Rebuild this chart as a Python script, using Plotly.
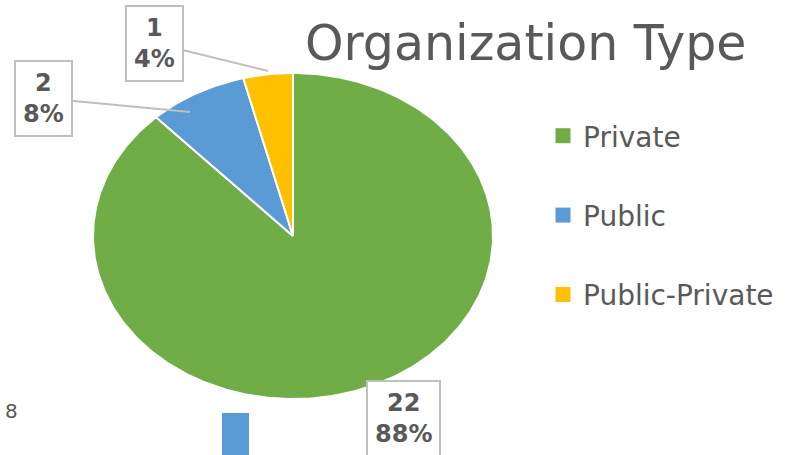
import numpy as np
import plotly.graph_objects as go

# ---- data ----
categories = ["Private", "Public", "Public-Private"]
counts = [22, 2, 1]
colors = ["#70AD47", "#5B9BD5", "#FFC000"]
title_text = "Organization Type"

total = sum(counts)
percents = [round(100 * c / total) for c in counts]

# pixel geometry of the (stretched) pie in the 788x455 canvas
W, H = 788, 455
CX, CY, RX, RY = 293, 236, 200, 163

def X(px):
    return (px - CX) / RX

def Y(py):
    return (CY - py) / RY

fig = go.Figure()

# pie slices (clockwise from 12 o'clock), unit circle stretched by the axes
start = 0.0
for cat, c, col in zip(categories, counts, colors):
    frac = c / total
    th = np.linspace(start, start + frac * 2 * np.pi, max(8, int(400 * frac)))
    xs = np.concatenate([[0], np.sin(th), [0]])
    ys = np.concatenate([[0], np.cos(th), [0]])
    fig.add_trace(go.Scatter(x=xs, y=ys, mode="lines", fill="toself",
                             fillcolor=col, line=dict(color="white", width=2),
                             showlegend=False, hoverinfo="skip", name=cat))
    start += frac * 2 * np.pi

# legend entries
for i, (cat, col) in enumerate(zip(categories, colors)):
    fig.add_trace(go.Scatter(x=[None], y=[None], mode="markers", name=cat,
                             legendgroup=f"g{i}",
                             marker=dict(symbol="square", size=15, color=col)))

# data labels (manually placed, like the original)
label_pos = {  # box centre (px), leader tip (px) or None
    "Private": ((403, 418), None),
    "Public": ((43, 98), (190, 112)),
    "Public-Private": ((154, 43), (268, 71)),
}
for cat, c, p in zip(categories, counts, percents):
    (bx, by), tip = label_pos[cat]
    txt = f"<b>{c}</b><br><b>{p}%</b>"
    common = dict(text=txt, font=dict(family="DejaVu Sans", size=24, color="#595959"),
                  bordercolor="#BFBFBF", borderwidth=2, borderpad=7, bgcolor="white",
                  xref="x", yref="y")
    if tip is None:
        fig.add_annotation(x=X(bx), y=Y(by), showarrow=False, **common)
    else:
        fig.add_annotation(x=X(tip[0]), y=Y(tip[1]), ax=X(bx), ay=Y(by),
                           axref="x", ayref="y", showarrow=True, arrowhead=0,
                           arrowwidth=2, arrowcolor="#BFBFBF", **common)

# title
fig.add_annotation(text=title_text, x=303 / W, y=1 - 44 / H, xref="paper", yref="paper",
                   xanchor="left", yanchor="middle", showarrow=False,
                   font=dict(family="DejaVu Sans", size=49, color="#595959"))

# stray artefacts visible in the screenshot
fig.add_annotation(text="8", x=3 / W, y=1 - 411 / H, xref="paper", yref="paper",
                   xanchor="left", yanchor="middle", showarrow=False,
                   font=dict(family="DejaVu Sans", size=20, color="#595959"))
fig.add_shape(type="rect", xref="paper", yref="paper", x0=222 / W, x1=249 / W,
              y0=0, y1=1 - 413 / H, fillcolor="#5B9BD5", line=dict(width=0))

fig.update_layout(
    width=W, height=H,
    margin=dict(l=0, r=0, t=0, b=0),
    paper_bgcolor="white", plot_bgcolor="white",
    xaxis=dict(range=[X(0), X(W)], visible=False, fixedrange=True),
    yaxis=dict(range=[Y(H), Y(0)], visible=False, fixedrange=True),
    showlegend=True,
    legend=dict(x=543 / W, y=1 - 111 / H, xanchor="left", yanchor="top",
                font=dict(family="DejaVu Sans", size=28, color="#595959"),
                traceorder="grouped", tracegroupgap=40, bgcolor="rgba(0,0,0,0)"),
    hovermode=False,
)

fig.write_html("out.html", config={"displayModeBar": False},
               post_script="document.body.style.margin='0px';")
